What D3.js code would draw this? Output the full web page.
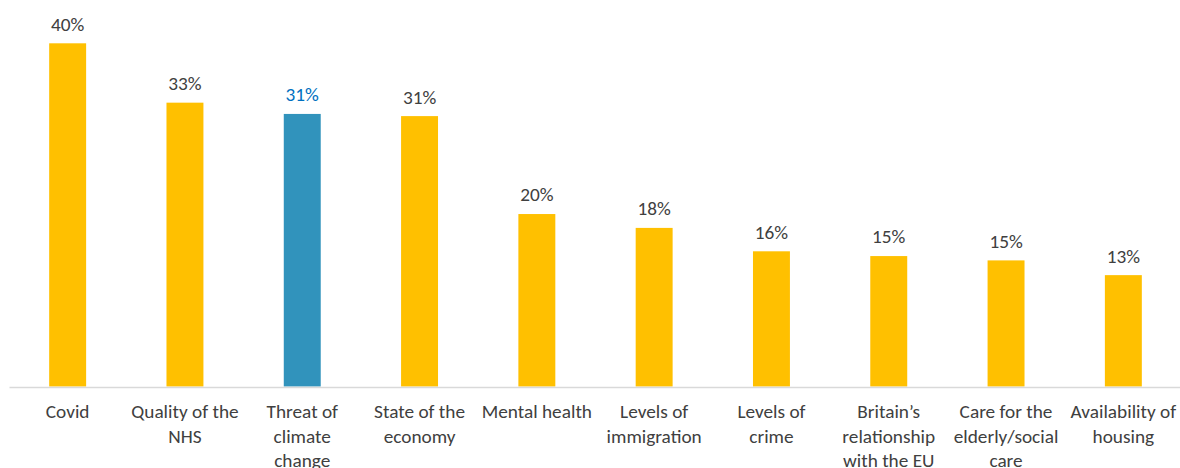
<!DOCTYPE html>
<html>
<head>
<meta charset="utf-8">
<script src="https://cdn.jsdelivr.net/npm/d3@7"></script>
<style>
  html, body { margin: 0; padding: 0; background: #ffffff; }
  svg { display: block; }
  text { font-family: Carlito, Lato, "Open Sans", sans-serif; }
</style>
</head>
<body>
<svg id="chart" width="1180" height="468"></svg>
<script>
const categories = [
  "Covid",
  "Quality of the\nNHS",
  "Threat of\nclimate\nchange",
  "State of the\neconomy",
  "Mental health",
  "Levels of\nimmigration",
  "Levels of\ncrime",
  "Britain\u2019s\nrelationship\nwith the EU",
  "Care for the\nelderly/social\ncare",
  "Availability of\nhousing"
];
const values = [39.6, 32.75, 31.45, 31.2, 19.9, 18.3, 15.6, 15.05, 14.55, 12.85];
const valueLabels = ["40%", "33%", "31%", "31%", "20%", "18%", "16%", "15%", "15%", "13%"];
const highlighted = ["Threat of\nclimate\nchange"];

const svg = d3.select("#chart");
const baseY = 386.5;
const x = d3.scaleBand().domain(categories).range([9, 1182]).paddingInner(0.685).paddingOuter(0.3425);
const y = d3.scaleLinear().domain([0, 39.6]).range([baseY, 43.3]);

const gold = "#FFC000", blue = "#3193BC";
const fs = 19.3;

// bars
svg.append("g").selectAll("rect").data(categories).join("rect")
  .attr("x", d => x(d))
  .attr("width", x.bandwidth())
  .attr("y", (d, i) => y(values[i]))
  .attr("height", (d, i) => baseY - y(values[i]))
  .attr("fill", d => highlighted.includes(d) ? blue : gold);

// value labels
svg.append("g").selectAll("text").data(categories).join("text")
  .attr("x", d => x(d) + x.bandwidth() / 2)
  .attr("y", (d, i) => y(values[i]) - 12.6)
  .attr("text-anchor", "middle")
  .attr("font-size", fs)
  .attr("fill", d => highlighted.includes(d) ? "#0070C0" : "#404040")
  .text((d, i) => valueLabels[i]);

// x axis
const axis = svg.append("g").attr("transform", `translate(0,${baseY + 0.5})`)
  .call(d3.axisBottom(x).tickSize(0).tickFormat(""));
axis.select(".domain").attr("stroke", "#D9D9D9").attr("stroke-width", 1.5);

const labels = svg.append("g");
categories.forEach(c => {
  const t = labels.append("text")
    .attr("x", x(c) + x.bandwidth() / 2)
    .attr("y", 418)
    .attr("text-anchor", "middle")
    .attr("font-size", fs)
    .attr("fill", "#404040");
  c.split("\n").forEach((line, k) => {
    t.append("tspan").attr("x", x(c) + x.bandwidth() / 2).attr("y", 418 + k * 24.5).text(line);
  });
});
</script>
</body>
</html>
